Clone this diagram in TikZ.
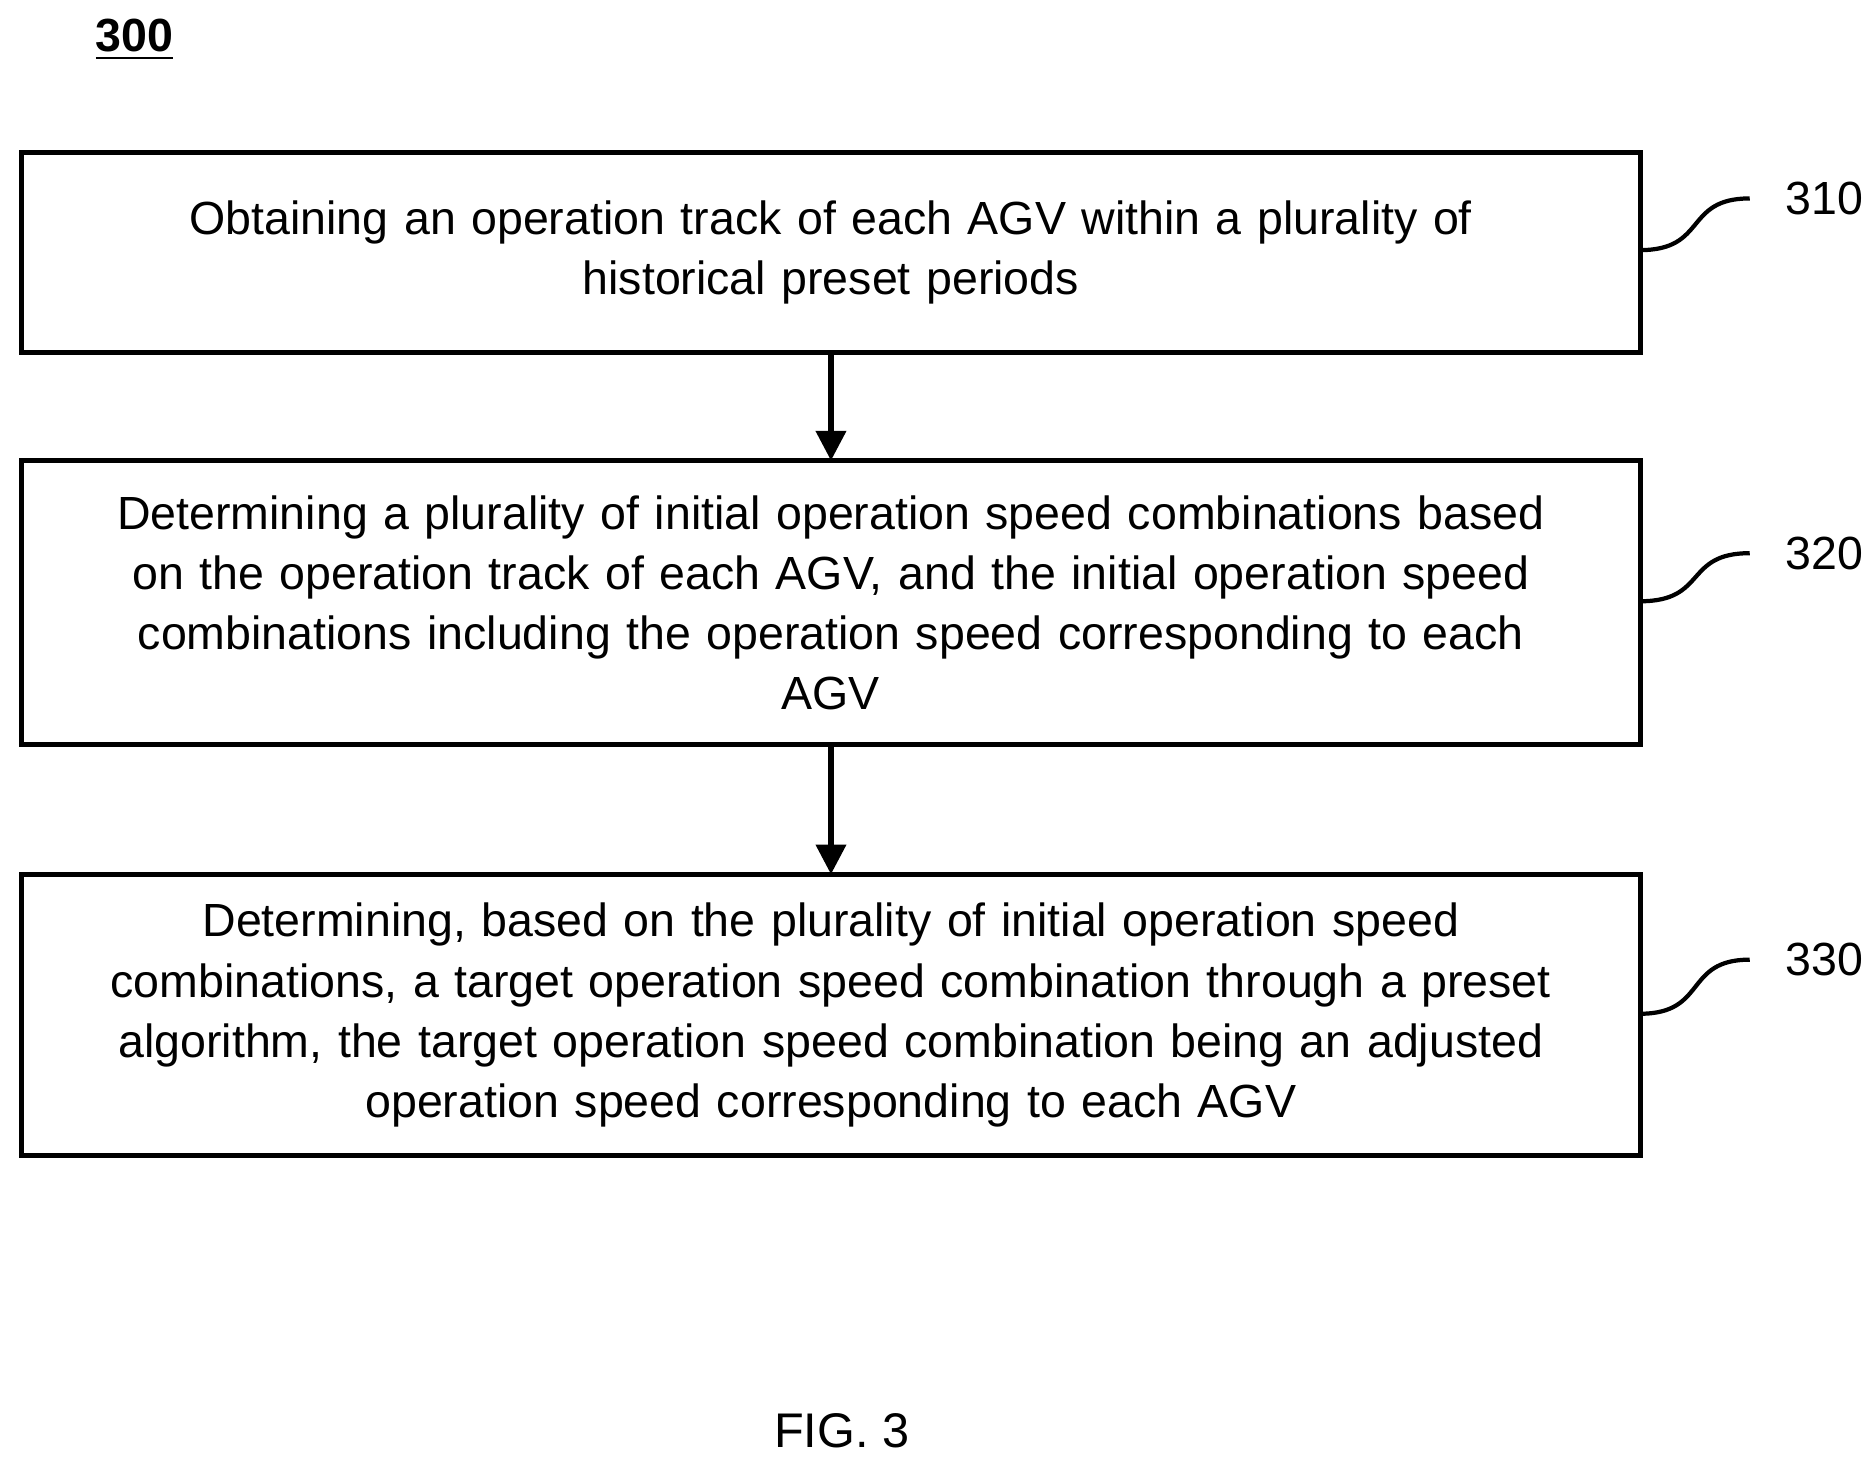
\documentclass[tikz,border=0pt]{standalone}
\usepackage{fontspec}
\setmainfont{Liberation Sans}
\usetikzlibrary{positioning,arrows.meta}
\begin{document}
\begin{tikzpicture}[x=0.01cm,y=-0.01cm,font=\fontsize{11}{14.2}\selectfont]
		\tikzset{
			step box/.style=
			{draw,line width=1.2pt,minimum width=13.45cm,text width=13.2cm,align=center,anchor=north west,outer sep=0pt},
			step arrow/.style=
			{draw,line width=1.2pt,-{Triangle[length=7pt,width=7pt]}},
			ref squiggle/.style=
			{draw,line width=1pt},
		}
		\useasboundingbox (0,0) rectangle (1560,1216);
		\node[font=\fontsize{11}{13}\selectfont\bfseries] (fig) at (112,33) {\underline{300}};
		\node[step box,minimum height=1.66cm] (obtain) at (18,127)
		{Obtaining an operation track of each AGV within a plurality of\\historical preset periods};
		\node[step box,minimum height=2.36cm] (initial) at (18,383)
		{Determining a plurality of initial operation speed combinations based\\on the operation track of each AGV, and the initial operation speed\\combinations including the operation speed corresponding to each\\AGV};
		\node[step box,minimum height=2.34cm] (target) at (18,727)
		{Determining, based on the plurality of initial operation speed\\combinations, a target operation speed combination through a preset\\algorithm, the target operation speed combination being an adjusted\\operation speed corresponding to each AGV};
		\draw[step arrow] (obtain.south -| 691,0) -- (initial.north -| 691,0);
		\draw[step arrow] (initial.south -| 691,0) -- (target.north -| 691,0);
		% reference numerals
		\node (l310) at (1517,165) {310};
		\node (l320) at (1517,460) {320};
		\node (l330) at (1517,798) {330};
		\draw[ref squiggle] (obtain.east |- 0,208) .. controls (1420,208) and (1400,165) .. (1455,165);
		\draw[ref squiggle] (initial.east |- 0,500) .. controls (1420,500) and (1400,460) .. (1455,460);
		\draw[ref squiggle] (target.east |- 0,843) .. controls (1420,843) and (1400,798) .. (1455,798);
		\node[font=\fontsize{11.5}{14}\selectfont] (caption) at (700,1190) {FIG. 3};
\end{tikzpicture}
\end{document}
